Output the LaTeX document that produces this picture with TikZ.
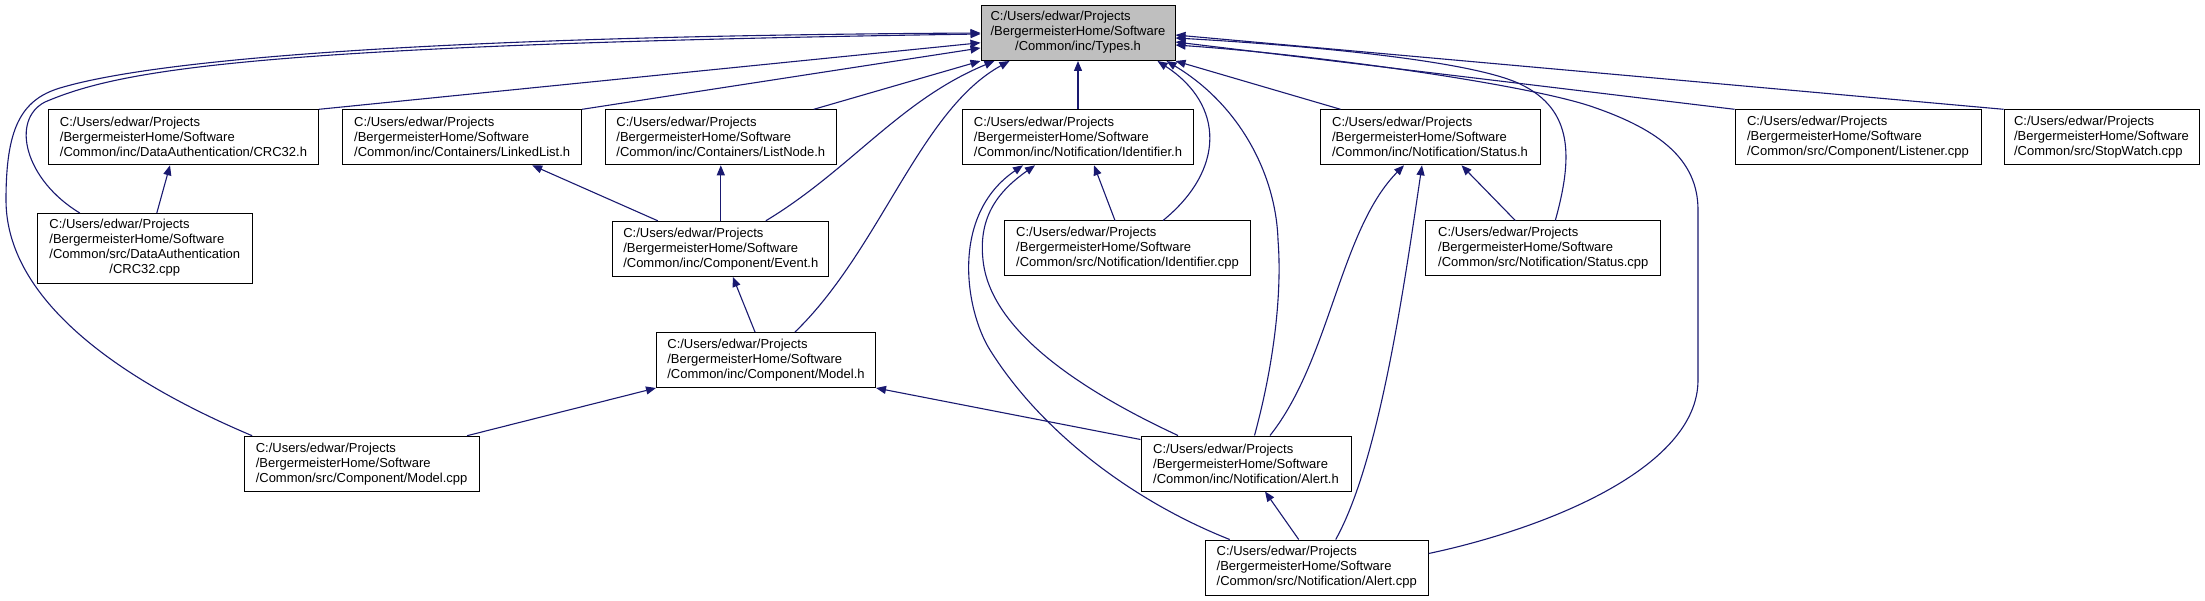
\documentclass[tikz,border=0pt]{standalone}
\usepackage{fontspec}
\setmainfont{Liberation Sans}
\usepackage{tikz}
\usetikzlibrary{arrows.meta,calc}
\usepackage{xcolor}
\definecolor{edgeblue}{RGB}{25,25,112}
\definecolor{rootgray}{RGB}{191,191,191}

\tikzset{
  file/.style={draw=black, line width=1pt, fill=white, inner xsep=0pt, inner ysep=0pt,
    minimum height=55pt, align=left, font=\fontsize{13}{15}\selectfont},
  dep/.style={edgeblue, line width=1.1pt, -{Triangle[length=10pt,width=8pt]}},
}

\begin{document}
\begin{tikzpicture}[x=1pt,y=-1pt]
    \useasboundingbox (0,0) rectangle (2205,601);
    % the header itself
    \node[file, fill=rootgray, minimum width=194pt] (types) at (1078,33)
        {\begin{tabular}{@{}l@{}}C:/Users/edwar/Projects\\/BergermeisterHome/Software\\\multicolumn{1}{@{}c@{}}{/Common/inc/Types.h}\end{tabular}};
    % first row
    \node[file, minimum width=270pt] (crch) at (183.5,137.3)
        {C:/Users/edwar/Projects\\/BergermeisterHome/Software\\/Common/inc/DataAuthentication/CRC32.h};
    \node[file, minimum width=239pt] (linkedlist) at (462.2,137.3)
        {C:/Users/edwar/Projects\\/BergermeisterHome/Software\\/Common/inc/Containers/LinkedList.h};
    \node[file, minimum width=231pt] (listnode) at (720.8,137.3)
        {C:/Users/edwar/Projects\\/BergermeisterHome/Software\\/Common/inc/Containers/ListNode.h};
    \node[file, minimum width=231pt] (identh) at (1078,137.3)
        {C:/Users/edwar/Projects\\/BergermeisterHome/Software\\/Common/inc/Notification/Identifier.h};
    \node[file, minimum width=220pt] (statush) at (1430,137.3)
        {C:/Users/edwar/Projects\\/BergermeisterHome/Software\\/Common/inc/Notification/Status.h};
    \node[file, minimum width=246pt] (listener) at (1858,137.3)
        {C:/Users/edwar/Projects\\/BergermeisterHome/Software\\/Common/src/Component/Listener.cpp};
    \node[file, minimum width=195pt] (stopwatch) at (2101.5,137.3)
        {C:/Users/edwar/Projects\\/BergermeisterHome/Software\\/Common/src/StopWatch.cpp};
    % second row
    \node[file, minimum width=215pt, minimum height=70pt] (crccpp) at (144.8,248.5)
        {\begin{tabular}{@{}l@{}}C:/Users/edwar/Projects\\/BergermeisterHome/Software\\/Common/src/DataAuthentication\\\multicolumn{1}{@{}c@{}}{/CRC32.cpp}\end{tabular}};
    \node[file, minimum width=216pt] (event) at (720.8,248.8)
        {C:/Users/edwar/Projects\\/BergermeisterHome/Software\\/Common/inc/Component/Event.h};
    \node[file, minimum width=246pt] (identcpp) at (1127.5,248.5)
        {C:/Users/edwar/Projects\\/BergermeisterHome/Software\\/Common/src/Notification/Identifier.cpp};
    \node[file, minimum width=235pt] (statuscpp) at (1543.3,248.5)
        {C:/Users/edwar/Projects\\/BergermeisterHome/Software\\/Common/src/Notification/Status.cpp};
    % lower rows
    \node[file, minimum width=219pt] (modelh) at (766,360)
        {C:/Users/edwar/Projects\\/BergermeisterHome/Software\\/Common/inc/Component/Model.h};
    \node[file, minimum width=235pt] (modelcpp) at (361.6,463.7)
        {C:/Users/edwar/Projects\\/BergermeisterHome/Software\\/Common/src/Component/Model.cpp};
    \node[file, minimum width=210pt] (alerth) at (1246,463.5)
        {C:/Users/edwar/Projects\\/BergermeisterHome/Software\\/Common/inc/Notification/Alert.h};
    \node[file, minimum width=223pt] (alertcpp) at (1316.7,567.5)
        {C:/Users/edwar/Projects\\/BergermeisterHome/Software\\/Common/src/Notification/Alert.cpp};

    % everything that includes Types.h
    \draw[dep] ($(modelcpp.north west)+(8.5,0)$) .. controls (120,380) and (6,300) .. (6,200)
        .. controls (6,130) and (20,100) .. (60,88) .. controls (160,58) and (450,36) .. (types.west);
    \draw[dep] ($(crccpp.north)+(-65,0)$) .. controls (25,180) and (10,120) .. (45,102)
        .. controls (120,70) and (250,45) .. ($(types.west)+(0,1)$);
    \draw[dep] (crch.north east) -- (types);
    \draw[dep] (linkedlist.north east) -- (types);
    \draw[dep] ($(listnode.north east)+(-23,0)$) -- (types.south west);
    \draw[dep] ($(event.north)+(45,0)$) .. controls (850,170) and (900,100) .. ($(types.south west)+(14,0)$);
    \draw[dep] ($(modelh.north)+(29,0)$) .. controls (880,250) and (920,110) .. ($(types.south west)+(29,0)$);
    \draw[dep] (identh) -- (types);
    \draw[dep] ($(identcpp.north)+(35.5,0)$) .. controls (1225,170) and (1225,105) .. ($(types.south east)+(-18,0)$);
    \draw[dep] ($(alerth.north)+(8.5,0)$) .. controls (1275,360) and (1282,290) .. (1278,240)
        .. controls (1276,175) and (1240,105) .. ($(types.south east)+(-9,0)$);
    \draw[dep] ($(statush.north west)+(21,0)$) -- (types.south east);
    \draw[dep] ($(statuscpp.north)+(12,0)$) .. controls (1572,160) and (1575,110) .. (1520,84)
        .. controls (1470,60) and (1300,45) .. ($(types.east)+(0,5)$);
    \draw[dep] ($(alertcpp.east)+(0,-14)$) .. controls (1540,530) and (1698,470) .. (1698,380)
        -- (1698,210) .. controls (1698,160) and (1660,130) .. (1593,107)
        .. controls (1530,85) and (1320,55) .. ($(types.east)+(0,12)$);
    \draw[dep] (listener.north west) -- ($(types.east)+(0,9)$);
    \draw[dep] (stopwatch.north west) -- ($(types.east)+(0,2)$);

    % the other includes
    \draw[dep] ($(crccpp.north)+(12,0)$) -- ($(crch.south)+(-13.5,0)$);
    \draw[dep] ($(event.north)+(-63,0)$) -- ($(linkedlist.south)+(70,0)$);
    \draw[dep] (event) -- (listnode);
    \draw[dep] ($(modelh.north)+(-11,0)$) -- ($(event.south)+(12,0)$);
    \draw[dep] ($(modelcpp.north east)+(-12.5,0)$) -- (modelh.south west);
    \draw[dep] ($(alerth.north west)+(0,4)$) -- (modelh.south east);
    \draw[dep] ($(identcpp.north)+(-12.5,0)$) -- ($(identh.south)+(16,0)$);
    \draw[dep] ($(alerth.north)+(-68,0)$) .. controls (1080,390) and (990,330) .. (983,260)
        .. controls (978,215) and (1000,190) .. ($(identh.south)+(-43,0)$);
    \draw[dep] ($(alertcpp.north west)+(25,0)$) .. controls (1130,500) and (1040,430) .. (990,350)
        .. controls (965,310) and (950,215) .. ($(identh.south)+(-55,0)$);
    \draw[dep] ($(statuscpp.north)+(-28,0)$) -- ($(statush.south)+(31.5,0)$);
    \draw[dep] ($(alerth.north)+(24,0)$) .. controls (1330,360) and (1340,230) .. ($(statush.south)+(-26,0)$);
    \draw[dep] ($(alertcpp.north)+(19,0)$) .. controls (1380,460) and (1405,280) .. ($(statush.south)+(-8,0)$);
    \draw[dep] ($(alertcpp.north)+(-18,0)$) -- ($(alerth.south)+(19,0)$);
\end{tikzpicture}
\end{document}
